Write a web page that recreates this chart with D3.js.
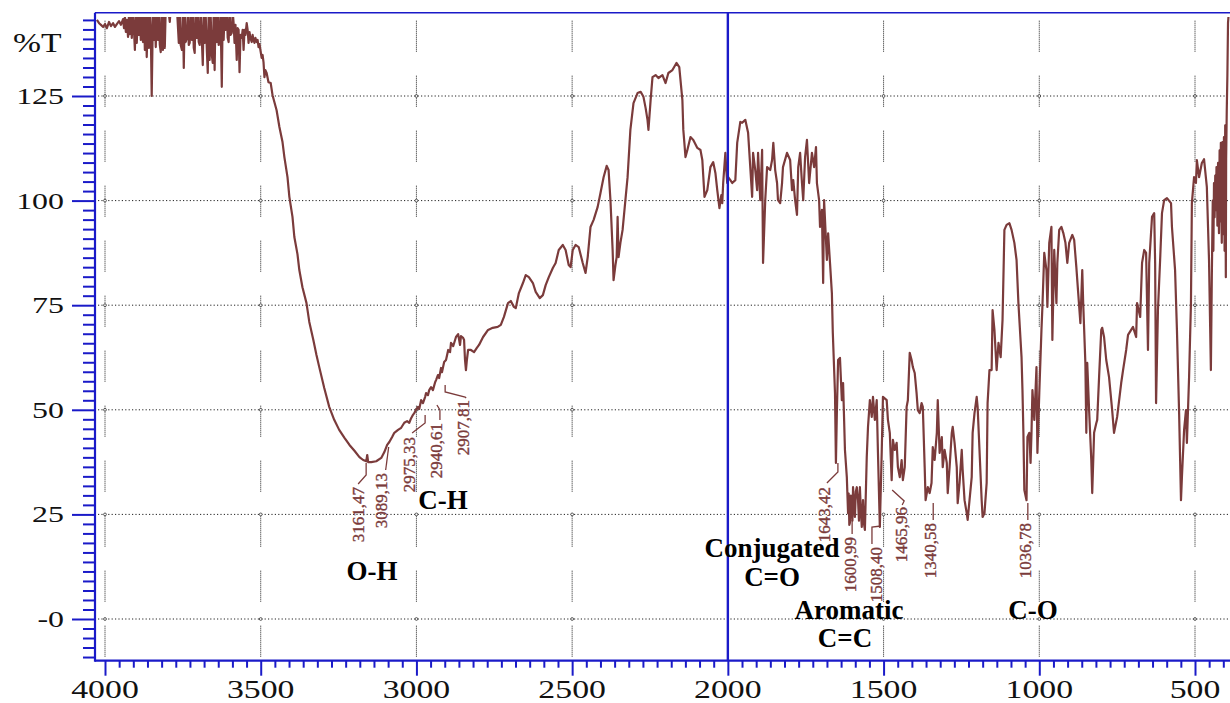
<!DOCTYPE html>
<html>
<head>
<meta charset="utf-8">
<script src="https://cdn.jsdelivr.net/npm/d3@7"></script>
<style>
  html, body { margin: 0; padding: 0; background: #ffffff; }
  svg { display: block; }
</style>
</head>
<body>
<svg id="chart" width="1230" height="703"></svg>
<script>
// FT-IR transmittance spectrum: [wavenumber (cm-1), %T]
const spectrum = [
  [4026,143.2],[4019,142.4],[4013,142.0],[4006,141.5],[4000,142.2],[3994,141.2],[3987,142.7],[3981,141.7],
  [3974,142.4],[3968,141.5],[3962,142.2],[3955,142.9],[3949,142.0],[3942,143.4],[3939,141.2],[3936,143.9],
  [3933,140.3],[3930,143.2],[3926,139.1],[3923,144.6],[3920,139.8],[3917,145.1],[3914,138.9],[3910,144.6],
  [3907,140.8],[3904,136.0],[3901,145.1],[3898,137.7],[3894,145.5],[3891,139.6],[3888,145.1],[3885,138.4],
  [3882,145.5],[3878,137.9],[3875,145.1],[3872,136.0],[3869,145.5],[3866,134.3],[3862,145.1],[3859,136.5],
  [3856,145.5],[3853,140.8],[3850,125.0],[3846,145.5],[3843,138.4],[3840,145.1],[3837,136.7],[3834,145.5],
  [3830,138.4],[3827,145.1],[3824,137.2],[3821,135.5],[3818,145.5],[3814,136.0],[3811,145.1],[3808,136.5],
  [3805,146.0],[3798,146.5],[3792,142.7],[3789,146.0],[3779,146.7],[3769,146.0],[3763,137.7],[3760,145.5],
  [3757,137.2],[3753,136.0],[3750,145.5],[3747,131.7],[3744,145.1],[3741,137.9],[3737,138.9],[3734,145.5],
  [3731,137.2],[3728,137.7],[3725,145.5],[3721,138.4],[3718,145.1],[3715,136.5],[3712,135.3],[3709,145.5],
  [3705,138.9],[3702,145.1],[3699,137.9],[3696,137.2],[3693,145.5],[3689,138.4],[3686,132.4],[3683,145.5],
  [3680,137.7],[3677,145.1],[3673,136.0],[3670,130.5],[3667,145.5],[3664,133.6],[3661,145.1],[3657,134.8],
  [3654,132.9],[3651,145.5],[3648,131.2],[3645,145.1],[3641,137.9],[3638,145.5],[3635,137.2],[3632,138.4],
  [3629,145.1],[3625,127.2],[3622,145.5],[3619,138.4],[3616,145.1],[3613,140.8],[3609,145.5],[3606,138.9],
  [3603,137.9],[3600,145.5],[3597,139.6],[3593,140.1],[3590,145.1],[3587,142.4],[3584,137.7],[3581,142.0],
  [3577,133.6],[3574,141.2],[3571,140.8],[3568,130.7],[3565,139.6],[3561,138.9],[3558,140.8],[3555,136.0],
  [3552,140.8],[3549,139.6],[3545,142.4],[3542,140.8],[3539,137.7],[3536,140.3],[3533,138.9],[3529,137.9],
  [3526,139.6],[3523,138.4],[3520,137.7],[3517,138.9],[3513,137.9],[3510,138.4],[3507,136.7],[3504,137.4],
  [3501,136.0],[3497,134.1],[3494,134.8],[3491,133.1],[3488,129.5],[3485,131.2],[3481,130.5],[3475,128.3],
  [3468,128.1],[3462,125.2],[3449,121.6],[3440,117.6],[3430,114.0],[3424,110.4],[3414,105.6],[3408,100.9],
  [3398,96.1],[3392,91.3],[3382,87.2],[3376,83.4],[3366,79.3],[3353,75.5],[3344,71.0],[3331,66.7],
  [3321,63.1],[3312,60.2],[3296,55.2],[3280,50.7],[3264,47.6],[3248,45.2],[3231,43.3],[3215,41.6],
  [3199,40.2],[3183,38.7],[3171,38.0],[3161,37.7],[3158,39.2],[3155,37.5],[3145,37.5],[3129,37.7],
  [3113,38.5],[3103,39.9],[3094,41.6],[3087,42.3],[3078,43.5],[3071,44.5],[3059,45.2],[3049,45.7],
  [3039,46.9],[3030,47.3],[3023,46.9],[3017,48.0],[3011,48.8],[3007,49.2],[3001,50.0],[2995,50.7],
  [2991,50.2],[2985,52.3],[2979,51.6],[2972,53.1],[2969,54.0],[2963,53.5],[2959,54.7],[2953,55.4],
  [2947,54.7],[2940,56.6],[2937,57.1],[2931,58.3],[2927,57.6],[2921,60.0],[2918,59.0],[2911,61.4],
  [2905,61.9],[2898,64.3],[2892,63.8],[2889,66.0],[2882,65.2],[2873,67.4],[2866,68.1],[2860,65.5],
  [2857,67.6],[2850,67.2],[2847,66.7],[2844,61.9],[2841,59.5],[2838,61.9],[2834,64.3],[2825,64.3],
  [2815,63.8],[2806,64.8],[2799,65.5],[2786,67.4],[2770,69.1],[2755,69.6],[2739,69.8],[2729,70.3],
  [2719,72.2],[2706,75.5],[2697,76.0],[2687,74.6],[2681,74.3],[2671,77.9],[2658,80.3],[2649,82.2],
  [2639,81.7],[2626,80.3],[2617,78.2],[2604,76.7],[2594,77.4],[2585,79.8],[2575,81.7],[2562,83.9],
  [2553,85.1],[2543,88.2],[2530,89.4],[2521,88.2],[2511,84.6],[2505,84.1],[2498,88.2],[2489,89.4],
  [2479,88.9],[2466,85.1],[2457,82.7],[2450,86.5],[2441,93.7],[2431,95.4],[2418,98.5],[2409,101.8],
  [2399,105.6],[2389,108.3],[2383,107.3],[2377,100.1],[2370,88.2],[2367,81.0],[2361,84.6],[2357,86.5],
  [2354,96.1],[2351,86.5],[2345,89.9],[2338,93.0],[2329,100.1],[2322,105.6],[2313,116.9],[2303,123.3],
  [2290,125.7],[2280,126.0],[2271,124.8],[2264,122.1],[2258,119.3],[2255,116.9],[2248,124.0],[2242,129.5],
  [2232,130.0],[2223,129.3],[2210,130.0],[2200,128.1],[2191,130.5],[2178,131.2],[2165,132.9],[2156,131.9],
  [2146,124.0],[2143,116.9],[2136,110.4],[2130,112.1],[2120,115.2],[2111,114.5],[2098,112.6],[2088,112.1],
  [2082,109.7],[2075,100.9],[2066,102.5],[2056,108.0],[2047,109.2],[2040,106.6],[2034,102.5],[2027,98.2],
  [2021,101.3],[2018,99.4],[2015,104.2],[2008,111.4],[2005,107.3],[2002,104.2],[1999,105.6],[1992,104.9],
  [1986,104.2],[1976,104.9],[1970,113.8],[1960,118.8],[1954,118.6],[1944,119.3],[1935,116.2],[1928,108.0],
  [1922,100.9],[1919,111.4],[1912,107.3],[1906,102.5],[1903,111.4],[1896,100.1],[1890,112.1],[1887,85.1],
  [1880,100.1],[1874,108.0],[1864,107.3],[1858,109.7],[1854,113.8],[1848,107.3],[1842,104.2],[1839,100.1],
  [1832,99.4],[1826,104.2],[1823,108.0],[1810,111.4],[1800,109.7],[1794,102.5],[1790,104.9],[1784,100.1],
  [1778,96.6],[1774,108.0],[1768,111.4],[1762,104.2],[1758,100.1],[1752,110.4],[1746,114.5],[1739,104.2],
  [1730,111.4],[1723,108.0],[1717,112.8],[1714,104.2],[1707,100.1],[1704,93.7],[1698,97.8],[1694,80.3],
  [1691,100.1],[1685,90.6],[1682,85.8],[1678,92.2],[1672,85.1],[1666,77.9],[1663,68.4],[1656,54.0],
  [1653,37.3],[1650,49.2],[1646,61.9],[1640,62.4],[1634,52.3],[1630,56.4],[1624,40.4],[1618,33.9],
  [1614,25.3],[1612,30.0],[1610,22.5],[1608,23.0],[1605,29.5],[1602,26.8],[1600,23.5],[1598,31.5],
  [1592,24.4],[1589,30.5],[1586,31.5],[1582,28.4],[1579,23.5],[1576,31.5],[1573,26.0],[1570,22.0],
  [1566,28.4],[1563,22.8],[1560,21.3],[1554,38.7],[1550,45.9],[1544,52.3],[1538,48.3],[1534,53.1],
  [1528,47.6],[1522,52.3],[1518,39.7],[1512,22.0],[1506,39.7],[1502,53.1],[1490,52.3],[1486,47.6],
  [1480,44.5],[1474,33.2],[1470,42.8],[1464,40.4],[1458,42.1],[1454,36.3],[1448,33.9],[1442,38.0],
  [1438,33.2],[1432,36.3],[1426,50.7],[1422,52.3],[1416,63.6],[1410,61.9],[1406,60.2],[1400,58.8],
  [1394,54.0],[1390,49.9],[1384,49.2],[1378,51.6],[1374,50.7],[1368,36.3],[1365,28.4],[1358,31.5],
  [1352,30.1],[1346,32.5],[1342,41.1],[1336,38.0],[1329,44.5],[1326,52.3],[1320,39.7],[1313,43.5],
  [1310,36.3],[1304,40.4],[1297,37.3],[1294,30.1],[1288,36.3],[1281,44.5],[1278,45.9],[1272,42.1],
  [1265,36.3],[1262,27.7],[1256,32.5],[1249,40.4],[1246,35.6],[1240,28.4],[1233,25.3],[1230,23.7],
  [1224,28.4],[1217,33.9],[1214,44.5],[1208,49.2],[1201,53.1],[1198,50.7],[1192,40.4],[1185,28.4],
  [1182,24.4],[1176,25.3],[1169,32.5],[1166,51.6],[1160,59.5],[1153,59.5],[1150,73.8],[1144,69.1],
  [1137,59.5],[1131,66.0],[1124,62.6],[1118,71.5],[1112,93.0],[1105,94.2],[1096,94.6],[1089,93.0],
  [1080,89.9],[1073,85.8],[1067,75.5],[1057,62.6],[1054,54.7],[1051,44.5],[1048,30.8],[1041,28.4],
  [1038,43.5],[1032,44.5],[1028,37.3],[1025,44.5],[1022,54.7],[1016,47.6],[1012,54.7],[1009,60.2],
  [1006,39.7],[1000,54.0],[993,69.1],[990,74.6],[984,87.5],[977,83.4],[974,74.6],[968,89.9],
  [961,93.7],[958,66.7],[952,88.2],[945,75.5],[942,85.1],[936,93.0],[929,93.7],[923,92.3],
  [916,89.9],[910,85.1],[904,89.9],[894,91.8],[888,90.6],[881,84.1],[875,77.9],[868,70.7],
  [862,83.4],[859,75.5],[852,61.2],[849,44.5],[846,61.2],[840,49.9],[833,38.0],[830,30.1],
  [824,44.5],[817,46.8],[814,47.6],[808,57.8],[801,69.1],[798,69.6],[792,67.4],[785,61.9],
  [776,57.8],[766,49.9],[760,44.5],[750,48.3],[737,56.4],[731,59.5],[721,64.3],[715,67.9],
  [705,69.1],[699,69.8],[689,67.4],[686,75.5],[676,72.2],[670,85.1],[663,88.2],[657,87.5],
  [651,64.3],[647,85.1],[638,96.1],[631,97.0],[628,85.1],[625,51.6],[619,73.8],[612,85.8],
  [606,97.0],[599,100.1],[590,100.6],[577,99.4],[574,93.7],[564,83.4],[558,69.1],[551,49.2],
  [545,28.4],[542,33.9],[535,45.2],[529,49.9],[526,42.1],[519,57.8],[513,75.5],[510,99.4],
  [503,105.6],[497,104.2],[494,109.7],[487,105.6],[478,109.0],[471,109.9],[462,103.3],[455,85.8],
  [449,59.5],[446,81.7],[443,100.0],[441,88.0],[439,104.2],[437,96.0],[435,106.0],[433,97.7],
  [431,108.0],[430,105.6],[428,94.0],[426,109.0],[423,92.2],[421,112.0],[419,95.0],[417,113.8],
  [415,96.0],[414,89.9],[412,114.0],[410,92.0],[407,115.2],[405,88.0],[403,118.0],[401,81.7],
  [400,110.0],[398,121.7],[396,130.0],[394,142.4],[391,145.5]
];

// Annotated band positions (cm-1)
const peakWavenumbers = [3161.47, 3089.13, 2975.33, 2940.61, 2907.81, 1643.42, 1600.99, 1508.40, 1465.96, 1340.58, 1036.78];
const peakTexts = ["3161,47", "3089,13", "2975,33", "2940,61", "2907,81", "1643,42", "1600,99", "1508,40", "1465,96", "1340,58", "1036,78"];

// Functional-group captions, centred over these wavenumbers
const groupTexts = ["O-H", "C-H", "Conjugated", "C=O", "Aromatic", "C=C", "C-O"];
const groupWavenumbers = [3143, 2915, 1858, 1858, 1611, 1624, 1020];

// Axis ticks
const xTickValues = [4000, 3500, 3000, 2500, 2000, 1500, 1000, 500];
const xTickLabels = ["4000", "3500", "3000", "2500", "2000", "1500", "1000", "500"];
const yTickValues = [0, 25, 50, 75, 100, 125];
const yTickLabels = ["-0", "25", "50", "75", "100", "125"];
const yAxisTitle = "%T";

// ---- layout ----
const W = 1230, H = 703;
const plot = { left: 95, right: 1240, top: 12.7, bottom: 660.7 };
const clipTop = 17;
const BLUE = "#1a1ac8";
const BROWN = "#7b3b3b";

// label placement relative to the peak x (px) and absolute y (px)
const peakLayout = [
  { dx: -8.6, top: 487, lead: [[0, 463], [0, 475], [-8, 484]] },
  { dx: -7.7, top: 473, lead: [[0, 447], [-3, 470]] },
  { dx: -15.1, top: 437, lead: [[1, 415], [1, 423], [-12, 433]] },
  { dx: 1.1, top: 423, lead: [[2, 405], [5, 410], [5, 420]] },
  { dx: 17.4, top: 400, lead: [[0, 385], [0, 392], [20, 397], [21, 398]] },
  { dx: -15.4, top: 487, lead: [[-1, 463], [-1, 472], [-12, 483]] },
  { dx: -2.1, top: 537, lead: [[0, 520], [0, 534]] },
  { dx: -4.5, top: 547, lead: [[0, 526], [-9, 527], [-9, 544]] },
  { dx: 7.3, top: 507, lead: [[-2, 490], [10, 501], [8, 505]] },
  { dx: -3.2, top: 523, lead: [[0, 503], [0, 520]] },
  { dx: -2.8, top: 523, lead: [[0, 503], [0, 520]] }
];
const groupBaselines = [580, 509, 557, 586, 619, 647, 619];

const svg = d3.select("#chart");

const x = d3.scaleLinear().domain([4000, 500]).range([105, 1195]);
const y = d3.scaleLinear().domain([0, 125]).range([619, 96]);

svg.append("defs").append("clipPath").attr("id", "plotClip")
  .append("rect")
  .attr("x", plot.left).attr("y", clipTop)
  .attr("width", plot.right - plot.left).attr("height", plot.bottom - clipTop);

// ---- grid ----
const grid = svg.append("g").attr("class", "grid");
grid.selectAll("line.h").data(yTickValues).join("line")
  .attr("class", "h")
  .attr("x1", plot.left + 3).attr("x2", W)
  .attr("y1", d => y(d)).attr("y2", d => y(d))
  .attr("stroke", "#222").attr("stroke-width", 1)
  .attr("stroke-dasharray", "1.2,2.2");

// vertical grid: dotted dashes
const vDash = d3.range(15).map(() => "1,1").join(",") + ",1,24";
grid.selectAll("line.v").data(xTickValues.filter(d => d !== 2000)).join("line")
  .attr("class", "v")
  .attr("x1", d => x(d)).attr("x2", d => x(d))
  .attr("y1", plot.top + 8).attr("y2", plot.bottom - 4)
  .attr("stroke", "#222").attr("stroke-width", 1)
  .attr("stroke-dasharray", vDash);

const crossings = [];
xTickValues.filter(d => d !== 2000).forEach(a => yTickValues.forEach(b => crossings.push([a, b])));
grid.selectAll("circle").data(crossings).join("circle")
  .attr("cx", d => x(d[0])).attr("cy", d => y(d[1])).attr("r", 1.4)
  .attr("fill", "#fff").attr("stroke", "#333").attr("stroke-width", 0.8);

// ---- spectrum ----
const line = d3.line().x(d => x(d[0])).y(d => y(d[1]));
svg.append("path")
  .datum(spectrum)
  .attr("clip-path", "url(#plotClip)")
  .attr("d", line)
  .attr("fill", "none")
  .attr("stroke", BROWN)
  .attr("stroke-width", 2.2)
  .attr("stroke-linejoin", "round");

// ---- frame and axes ----
const frame = svg.append("g").attr("stroke", BLUE).attr("fill", "none");
frame.append("line").attr("x1", plot.left).attr("x2", W).attr("y1", plot.top).attr("y2", plot.top).attr("stroke-width", 1.6);
frame.append("line").attr("x1", plot.left).attr("x2", plot.left).attr("y1", plot.top).attr("y2", plot.bottom + 1).attr("stroke-width", 2.2);
frame.append("line").attr("x1", plot.left).attr("x2", W).attr("y1", plot.bottom).attr("y2", plot.bottom).attr("stroke-width", 2.2);
frame.append("line").attr("x1", x(2000)).attr("x2", x(2000)).attr("y1", plot.top).attr("y2", plot.bottom).attr("stroke-width", 2.4);

// y axis ticks
const yMinor = d3.range(-4, 64).map(k => k * 25 / 11).filter(v => !yTickValues.some(t => Math.abs(t - v) < 0.5));
const yAxisMajor = d3.axisLeft(y).tickValues(yTickValues).tickSize(23).tickFormat("");
const yAxisMinor = d3.axisLeft(y).tickValues(yMinor).tickSize(12).tickFormat("");
[yAxisMajor, yAxisMinor].forEach(ax => {
  const g = svg.append("g").attr("transform", `translate(${plot.left},0)`).call(ax);
  g.select(".domain").remove();
  g.selectAll("line").attr("stroke", BLUE).attr("stroke-width", 2);
});

// x axis ticks
const xMinor = d3.range(0, 80).filter(k => k % 11 !== 0).map(k => 4000 - k * 500 / 11);
const xAxisMajor = d3.axisBottom(x).tickValues(xTickValues).tickSize(15).tickFormat("");
const xAxisMinor = d3.axisBottom(x).tickValues(xMinor).tickSize(7).tickFormat("");
[xAxisMajor, xAxisMinor].forEach(ax => {
  const g = svg.append("g").attr("transform", `translate(0,${plot.bottom})`).call(ax);
  g.select(".domain").remove();
  g.selectAll("line").attr("stroke", BLUE).attr("stroke-width", 2);
});

// tick labels
const labelFont = "'Liberation Serif', 'Times New Roman', serif";
svg.append("g").selectAll("text").data(yTickValues).join("text")
  .attr("transform", d => `translate(64,${y(d) + 8}) scale(1.33,1)`)
  .attr("text-anchor", "end")
  .attr("font-family", labelFont).attr("font-size", 24).attr("fill", "#111")
  .text((d, i) => yTickLabels[i]);

svg.append("g").selectAll("text").data(xTickValues).join("text")
  .attr("transform", d => `translate(${x(d)},698) scale(1.3,1)`)
  .attr("text-anchor", "middle")
  .attr("font-family", labelFont).attr("font-size", 26).attr("fill", "#111")
  .text((d, i) => xTickLabels[i]);

svg.append("text")
  .attr("transform", "translate(13,52) scale(1.2,1)")
  .attr("font-family", labelFont).attr("font-size", 28).attr("fill", "#111")
  .text(yAxisTitle);

// ---- peak labels ----
const peaks = svg.append("g").attr("class", "peaks");
peakWavenumbers.forEach((wn, i) => {
  const px = x(wn);
  const L = peakLayout[i];
  peaks.append("polyline")
    .attr("points", L.lead.map(p => `${px + p[0]},${p[1]}`).join(" "))
    .attr("fill", "none").attr("stroke", BROWN).attr("stroke-width", 1.3);
  peaks.append("text")
    .attr("transform", `translate(${px + L.dx + 6},${L.top}) rotate(-90)`)
    .attr("text-anchor", "end")
    .attr("font-family", labelFont).attr("font-size", 17)
    .attr("fill", BROWN).attr("stroke", BROWN).attr("stroke-width", 0.35)
    .text(peakTexts[i]);
});

// ---- functional group captions ----
svg.append("g").selectAll("text").data(groupTexts).join("text")
  .attr("x", (d, i) => x(groupWavenumbers[i]))
  .attr("y", (d, i) => groupBaselines[i])
  .attr("text-anchor", "middle")
  .attr("font-family", labelFont).attr("font-weight", "bold").attr("font-size", 27)
  .attr("fill", "#000")
  .text(d => d);
</script>
</body>
</html>
